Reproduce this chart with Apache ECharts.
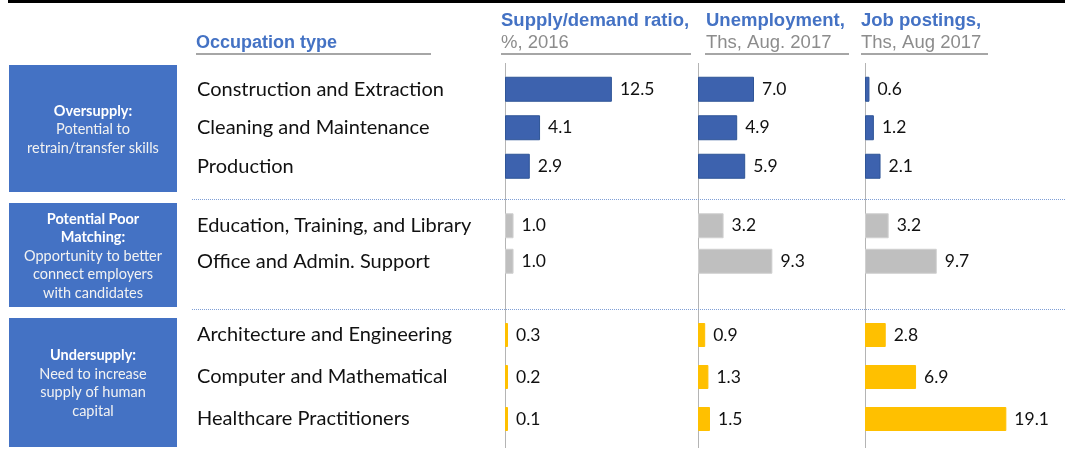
<!DOCTYPE html>
<html>
<head>
<meta charset="utf-8">
<script src="https://cdn.jsdelivr.net/npm/echarts@6/dist/echarts.min.js"></script>
<style>
  html, body { margin: 0; padding: 0; background: #fff; }
  #main { width: 1065px; height: 460px; }
</style>
</head>
<body>
<div id="main"></div>
<script>
// data
const occupations = [
  'Construction and Extraction', 'Cleaning and Maintenance', 'Production',
  'Education, Training, and Library', 'Office and Admin. Support',
  'Architecture and Engineering', 'Computer and Mathematical', 'Healthcare Practitioners'
];
const groupSizes = [3, 2, 3];
const supplyDemand = [12.5, 4.1, 2.9, 1.0, 1.0, 0.3, 0.2, 0.1];
const unemployment = [7.0, 4.9, 5.9, 3.2, 9.3, 0.9, 1.3, 1.5];
const jobPostings = [0.6, 1.2, 2.1, 3.2, 9.7, 2.8, 6.9, 19.1];
const panelTitles = ['Supply/demand ratio,', 'Unemployment,', 'Job postings,'];
const panelUnits = ['%, 2016', 'Ths, Aug. 2017', 'Ths, Aug 2017'];
const groupHeads = [['Oversupply:'], ['Potential Poor', 'Matching:'], ['Undersupply:']];
const groupNotes = [
  ['Potential to', 'retrain/transfer skills'],
  ['Opportunity to better', 'connect employers', 'with candidates'],
  ['Need to increase', 'supply of human', 'capital']
];

// layout
const panelValues = [supplyDemand, unemployment, jobPostings];
const panelLeft = [505, 698, 865];
const panelWidth = [171, 160, 148];
const headLeft = [501, 706, 861];
const lineSpan = [[501, 691], [705, 849], [861, 988]];
const groupTop = [70, 208, 314];
const groupHeight = [115.5, 71, 126];
const barW = [25, 25, 24];
const barColor = ['#3D62AE', '#BFBFBF', '#FFC000'];
const barBorder = ['#2F5597', '#D0D0D0', '#FFC000'];
const boxTop = [65, 203, 318];
const boxBottom = [192, 307, 447];

const chart = echarts.init(document.getElementById('main'));

const grid = [], xAxis = [], yAxis = [], series = [];
let start = 0;
groupSizes.forEach((n, g) => {
  for (let p = 0; p < 3; p++) {
    const idx = g * 3 + p;
    grid.push({ left: panelLeft[p], top: groupTop[g], width: panelWidth[p], height: groupHeight[g] });
    xAxis.push({ gridIndex: idx, type: 'value', min: 0, max: 20, show: false });
    yAxis.push({
      gridIndex: idx,
      type: 'category',
      inverse: true,
      data: occupations.slice(start, start + n),
      axisLine: { show: false },
      axisTick: { show: false },
      splitLine: { show: false },
      axisLabel: {
        show: p === 0,
        align: 'left',
        margin: panelLeft[0] - 197,
        fontFamily: 'Lato',
        fontSize: 20,
        color: '#111'
      }
    });
    series.push({
      type: 'bar',
      xAxisIndex: idx,
      yAxisIndex: idx,
      data: panelValues[p].slice(start, start + n),
      barWidth: barW[g],
      barMinHeight: 3,
      itemStyle: { color: barColor[g], borderColor: barBorder[g], borderWidth: 1 },
      label: {
        show: true,
        position: 'right',
        distance: 8,
        formatter: d => d.value.toFixed(1),
        fontFamily: 'Lato',
        fontSize: 17.5,
        color: '#111'
      },
      silent: true,
      animation: false
    });
  }
  start += n;
});

const graphic = [];
// top rule
graphic.push({ type: 'line', shape: { x1: 8, y1: 1.5, x2: 1065, y2: 1.5 }, style: { stroke: '#000', lineWidth: 3 } });
// column headers
graphic.push({
  type: 'text', x: 196, y: 43,
  style: { text: 'Occupation type', fontFamily: 'Liberation Sans', fontWeight: 'bold', fontSize: 18, fill: '#4472C4', textVerticalAlign: 'middle' }
});
graphic.push({ type: 'line', shape: { x1: 196, y1: 54, x2: 431, y2: 54 }, style: { stroke: '#A6A6A6', lineWidth: 2 } });
for (let p = 0; p < 3; p++) {
  graphic.push({
    type: 'text', x: headLeft[p], y: 21,
    style: { text: panelTitles[p], fontFamily: 'Liberation Sans', fontWeight: 'bold', fontSize: 18.5, fill: '#4472C4', textVerticalAlign: 'middle' }
  });
  graphic.push({
    type: 'text', x: headLeft[p], y: 43,
    style: { text: panelUnits[p], fontFamily: 'Liberation Sans', fontSize: 18.5, fill: '#8C8C8C', textVerticalAlign: 'middle' }
  });
  graphic.push({ type: 'line', shape: { x1: lineSpan[p][0], y1: 54, x2: lineSpan[p][1], y2: 54 }, style: { stroke: '#A6A6A6', lineWidth: 2 } });
  // panel baseline
  graphic.push({ type: 'line', shape: { x1: panelLeft[p] + 0.5, y1: 63, x2: panelLeft[p] + 0.5, y2: 448 }, style: { stroke: '#B4B4B4', lineWidth: 1 } });
}
// dotted group separators
[199.5, 309.5].forEach(y => {
  graphic.push({ type: 'line', shape: { x1: 192, y1: y, x2: 1065, y2: y }, style: { stroke: '#7F9FD6', lineWidth: 1, lineDash: [1, 1] } });
});
// group boxes
for (let g = 0; g < 3; g++) {
  graphic.push({
    type: 'rect', shape: { x: 9, y: boxTop[g], width: 168, height: boxBottom[g] - boxTop[g] },
    style: { fill: '#4472C4' }
  });
  const rich = groupHeads[g].map(t => '{b|' + t + '}').concat(groupNotes[g].map(t => '{n|' + t + '}')).join('\n');
  graphic.push({
    type: 'text', x: 93, y: (boxTop[g] + boxBottom[g]) / 2 + 1,
    style: {
      text: rich,
      align: 'center',
      verticalAlign: 'middle',
      rich: {
        b: { fontFamily: 'Lato', fontWeight: 'bold', fontSize: 14.5, fill: '#fff', lineHeight: 18.5, align: 'center' },
        n: { fontFamily: 'Lato', fontSize: 14.5, fill: '#F2F2F2', lineHeight: 18.5, align: 'center' }
      }
    }
  });
}

chart.setOption({
  animation: false,
  backgroundColor: '#fff',
  grid: grid,
  xAxis: xAxis,
  yAxis: yAxis,
  series: series,
  graphic: graphic
});
</script>
</body>
</html>
